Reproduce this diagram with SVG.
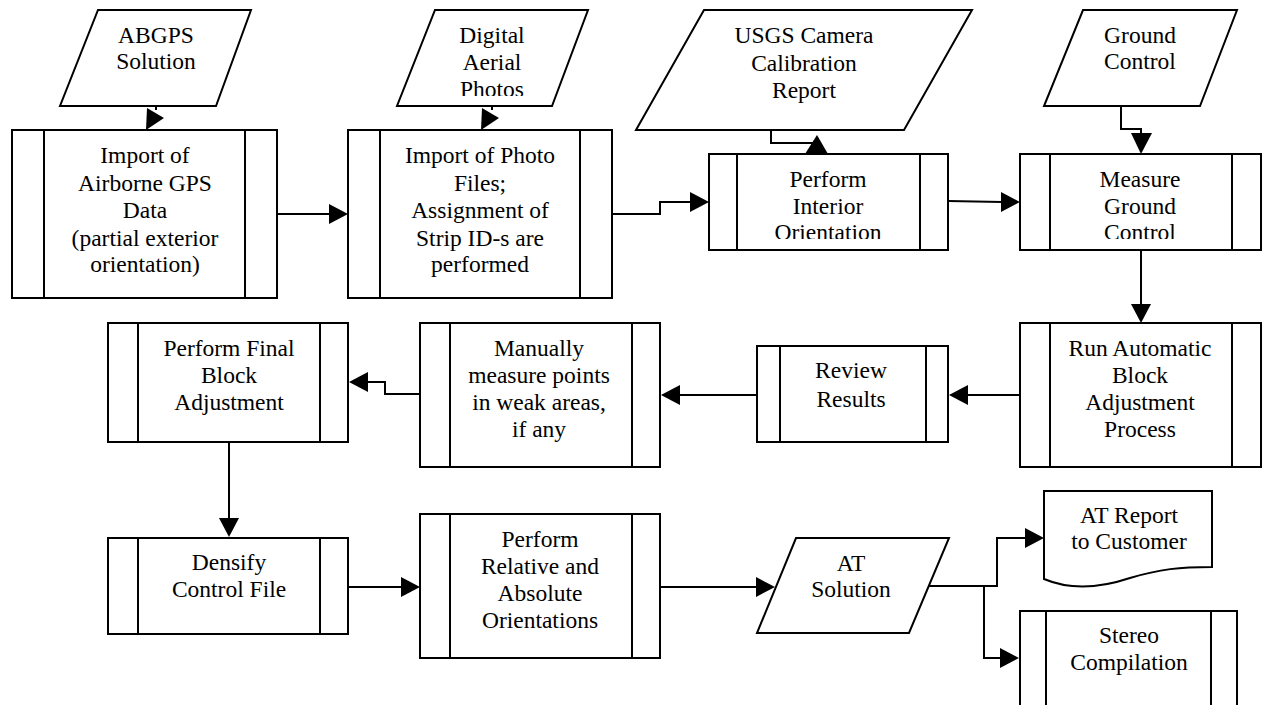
<svg xmlns="http://www.w3.org/2000/svg" width="1266" height="705" viewBox="0 0 1266 705">
<style>
.shape{fill:#fff;stroke:#000;stroke-width:2}
.ln{fill:none;stroke:#000;stroke-width:2}
.ah{fill:#000;stroke:none}
.t{font-size:23.5px;fill:#000;text-anchor:middle}
</style>
<defs>
<clipPath id="clipDigital"><rect x="380" y="0" width="220" height="96"/></clipPath>
<clipPath id="clipBox3"><rect x="700" y="150" width="260" height="89"/></clipPath>
<clipPath id="clipBox4"><rect x="1010" y="150" width="260" height="89"/></clipPath>
</defs>
<rect width="1266" height="705" fill="#fff"/>

<g id="connectors">
<polyline class="ln" points="156,106 156,110"/>
<polygon class="ah" points="147,108 164,118 146,130"/>
<polyline class="ln" points="492,106 492,110"/>
<polygon class="ah" points="482,108 499,118 481,130"/>
<line class="ln" x1="277" y1="214" x2="330" y2="214"/>
<polygon class="ah" points="329,204 348,214 329,224"/>
<polyline class="ln" points="612,214 660,214 660,202 691,202"/>
<polygon class="ah" points="690,192 709,202 690,212"/>
<polyline class="ln" points="771,130 771,143 813,143"/>
<polygon class="ah" points="817,135 828,154 805,154"/>
<line class="ln" x1="948" y1="201" x2="1002" y2="202"/>
<polygon class="ah" points="1001,192 1020,202 1001,212"/>
<polyline class="ln" points="1121,106 1121,129 1141,129 1141,135"/>
<polygon class="ah" points="1131,133 1152,133 1141,154"/>
<line class="ln" x1="1141" y1="250" x2="1141" y2="305"/>
<polygon class="ah" points="1131,304 1151,304 1141,323"/>
<line class="ln" x1="1020" y1="395" x2="967" y2="395"/>
<polygon class="ah" points="968,385 949,395 968,405"/>
<line class="ln" x1="757" y1="395" x2="679" y2="395"/>
<polygon class="ah" points="680,385 661,395 680,405"/>
<polyline class="ln" points="420,394 385,394 385,382 367,382"/>
<polygon class="ah" points="368,372 349,382 368,392"/>
<line class="ln" x1="229" y1="442" x2="229" y2="519"/>
<polygon class="ah" points="219,518 239,518 229,537"/>
<line class="ln" x1="348" y1="587" x2="402" y2="587"/>
<polygon class="ah" points="401,577 420,587 401,597"/>
<line class="ln" x1="660" y1="587" x2="757" y2="587"/>
<polygon class="ah" points="756,577 775,587 756,597"/>
<polyline class="ln" points="929,586 997,586 997,538 1026,538"/>
<polygon class="ah" points="1025,528 1044,538 1025,548"/>
<polyline class="ln" points="984,586 984,658 1001,658"/>
<polygon class="ah" points="1000,648 1019,658 1000,668"/>
</g>

<g font-family="Liberation Serif, serif">
<g id="abgps">
<polygon class="shape" points="98,10 251,10 216,106 60,106"/>
<text class="t" x="156" y="43">ABGPS</text>
<text class="t" x="156" y="69">Solution</text>
</g>

<g id="import-gps">
<rect class="shape" x="12" y="130" width="265" height="168"/>
<line class="ln" x1="44" y1="130" x2="44" y2="298"/>
<line class="ln" x1="245" y1="130" x2="245" y2="298"/>
<text class="t" x="145" y="163">Import of</text>
<text class="t" x="145" y="191">Airborne GPS</text>
<text class="t" x="145" y="218">Data</text>
<text class="t" x="145" y="246">(partial exterior</text>
<text class="t" x="145" y="272">orientation)</text>
</g>

<g id="digital-photos">
<polygon class="shape" points="435,10 588,10 552,106 397,106"/>
<g clip-path="url(#clipDigital)">
<text class="t" x="492" y="43">Digital</text>
<text class="t" x="492" y="70">Aerial</text>
<text class="t" x="492" y="97">Photos</text>
</g>
</g>

<g id="import-photos">
<rect class="shape" x="348" y="130" width="264" height="168"/>
<line class="ln" x1="380" y1="130" x2="380" y2="298"/>
<line class="ln" x1="580" y1="130" x2="580" y2="298"/>
<text class="t" x="480" y="163">Import of Photo</text>
<text class="t" x="480" y="191">Files;</text>
<text class="t" x="480" y="218">Assignment of</text>
<text class="t" x="480" y="246">Strip ID-s are</text>
<text class="t" x="480" y="272">performed</text>
</g>

<g id="usgs">
<polygon class="shape" points="704,10 972,10 904,130 636,130"/>
<text class="t" x="804" y="43">USGS Camera</text>
<text class="t" x="804" y="71">Calibration</text>
<text class="t" x="804" y="98">Report</text>
</g>

<g id="interior">
<rect class="shape" x="709" y="154" width="239" height="96"/>
<line class="ln" x1="737" y1="154" x2="737" y2="250"/>
<line class="ln" x1="920" y1="154" x2="920" y2="250"/>
<g clip-path="url(#clipBox3)">
<text class="t" x="828" y="187">Perform</text>
<text class="t" x="828" y="214">Interior</text>
<text class="t" x="828" y="240">Orientation</text>
</g>
</g>

<g id="ground-control">
<polygon class="shape" points="1083,10 1237,10 1200,106 1044,106"/>
<text class="t" x="1140" y="43">Ground</text>
<text class="t" x="1140" y="69">Control</text>
</g>

<g id="measure">
<rect class="shape" x="1020" y="154" width="241" height="96"/>
<line class="ln" x1="1050" y1="154" x2="1050" y2="250"/>
<line class="ln" x1="1232" y1="154" x2="1232" y2="250"/>
<g clip-path="url(#clipBox4)">
<text class="t" x="1140" y="187">Measure</text>
<text class="t" x="1140" y="214">Ground</text>
<text class="t" x="1140" y="240">Control</text>
</g>
</g>

<g id="run-auto">
<rect class="shape" x="1020" y="323" width="241" height="144"/>
<line class="ln" x1="1050" y1="323" x2="1050" y2="467"/>
<line class="ln" x1="1232" y1="323" x2="1232" y2="467"/>
<text class="t" x="1140" y="356">Run Automatic</text>
<text class="t" x="1140" y="383">Block</text>
<text class="t" x="1140" y="410">Adjustment</text>
<text class="t" x="1140" y="437">Process</text>
</g>

<g id="review">
<rect class="shape" x="757" y="346" width="191" height="96"/>
<line class="ln" x1="780" y1="346" x2="780" y2="442"/>
<line class="ln" x1="926" y1="346" x2="926" y2="442"/>
<text class="t" x="851" y="378">Review</text>
<text class="t" x="851" y="407">Results</text>
</g>

<g id="manually">
<rect class="shape" x="420" y="323" width="240" height="144"/>
<line class="ln" x1="450" y1="323" x2="450" y2="467"/>
<line class="ln" x1="632" y1="323" x2="632" y2="467"/>
<text class="t" x="539" y="356">Manually</text>
<text class="t" x="539" y="383">measure points</text>
<text class="t" x="539" y="410">in weak areas,</text>
<text class="t" x="539" y="437">if any</text>
</g>

<g id="final">
<rect class="shape" x="108" y="323" width="240" height="119"/>
<line class="ln" x1="138" y1="323" x2="138" y2="442"/>
<line class="ln" x1="320" y1="323" x2="320" y2="442"/>
<text class="t" x="229" y="356">Perform Final</text>
<text class="t" x="229" y="383">Block</text>
<text class="t" x="229" y="410">Adjustment</text>
</g>

<g id="densify">
<rect class="shape" x="108" y="538" width="240" height="96"/>
<line class="ln" x1="138" y1="538" x2="138" y2="634"/>
<line class="ln" x1="320" y1="538" x2="320" y2="634"/>
<text class="t" x="229" y="570">Densify</text>
<text class="t" x="229" y="597">Control File</text>
</g>

<g id="relative">
<rect class="shape" x="420" y="514" width="240" height="144"/>
<line class="ln" x1="450" y1="514" x2="450" y2="658"/>
<line class="ln" x1="632" y1="514" x2="632" y2="658"/>
<text class="t" x="540" y="547">Perform</text>
<text class="t" x="540" y="574">Relative and</text>
<text class="t" x="540" y="601">Absolute</text>
<text class="t" x="540" y="628">Orientations</text>
</g>

<g id="at-solution">
<polygon class="shape" points="796,538 949,538 909,633 757,633"/>
<text class="t" x="851" y="571">AT</text>
<text class="t" x="851" y="597">Solution</text>
</g>

<g id="at-report">
<path class="shape" d="M1044,491 H1212 V567 C1180,567 1160,569 1130,578 C1100,588 1070,590 1044,579 Z"/>
<text class="t" x="1129" y="523">AT Report</text>
<text class="t" x="1129" y="549">to Customer</text>
</g>

<g id="stereo">
<rect class="shape" x="1020" y="611" width="217" height="110"/>
<line class="ln" x1="1046" y1="611" x2="1046" y2="721"/>
<line class="ln" x1="1211" y1="611" x2="1211" y2="721"/>
<text class="t" x="1129" y="643">Stereo</text>
<text class="t" x="1129" y="670">Compilation</text>
</g>
</g>
</svg>
